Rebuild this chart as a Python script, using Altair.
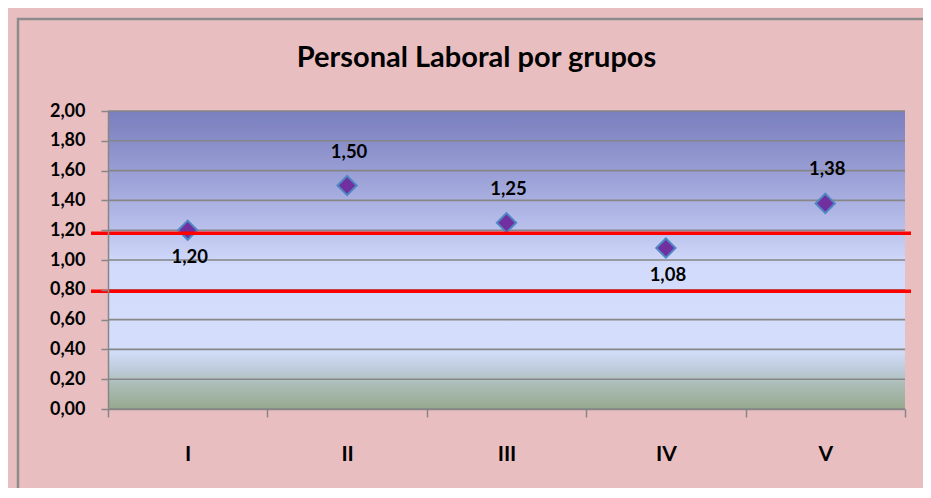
import altair as alt
import pandas as pd

# ---- data ----
categories = ["I", "II", "III", "IV", "V"]
values = [1.20, 1.50, 1.25, 1.08, 1.38]
ref_lines = [1.18, 0.79]
y_ticks = [0.0, 0.2, 0.4, 0.6, 0.8, 1.0, 1.2, 1.4, 1.6, 1.8, 2.0]
title_text = ["Personal Laboral por grupos"]

W, H = 797, 298
PINK = "#e9bec1"
GRID = "#868686"

pts = pd.DataFrame({"cat": categories, "value": values})
refs = pd.DataFrame({"ref": ref_lines})
grid = pd.DataFrame({"tick": y_ticks})
one = pd.DataFrame({"k": [0]})
ttl = pd.DataFrame({"t": title_text})

xscale = alt.Scale(type="band", domain=categories, paddingInner=0, paddingOuter=0)
yscale = alt.Scale(domain=[0, 2])

x_axis = alt.Axis(
    tickBand="extent", labelAngle=0, labelFont="Lato", labelFontWeight="bold",
    labelFontSize=21, labelColor="black", labelPadding=26, tickSize=8,
    tickColor=GRID, tickWidth=1.5, domainColor=GRID, domainWidth=1.5,
    grid=False, zindex=1, title=None,
)
y_axis = alt.Axis(
    values=y_ticks, labelExpr="replace(format(datum.value, '.2f'), '.', ',')",
    labelOverlap=False, labelFont="Lato", labelFontWeight="bold",
    labelFontSize=18, labelColor="black",
    labelPadding=16, tickSize=7, tickColor=GRID, tickWidth=1.5,
    domainColor=GRID, domainWidth=1.5, grid=False, zindex=1, title=None,
)

def xe():
    return alt.X("cat:N", sort=categories, scale=xscale, axis=x_axis)

def ye(field):
    return alt.Y(field, scale=yscale, axis=y_axis)

gradient = alt.Gradient(
    gradient="linear", x1=0, x2=0, y1=0, y2=1,
    stops=[
        alt.GradientStop(offset=0.0, color="#7a7fbe"),
        alt.GradientStop(offset=0.2, color="#989dd4"),
        alt.GradientStop(offset=0.4, color="#bac1ec"),
        alt.GradientStop(offset=0.52, color="#d2dbfb"),
        alt.GradientStop(offset=0.8, color="#d4defc"),
        alt.GradientStop(offset=0.87, color="#bccbd9"),
        alt.GradientStop(offset=0.91, color="#aebfbc"),
        alt.GradientStop(offset=1.0, color="#96a98d"),
    ],
)

bg = alt.Chart(one).mark_rect(color=gradient).encode(
    x=alt.value(0), x2=alt.value(W), y=alt.value(0), y2=alt.value(H)
)

border = alt.Chart(one).mark_rect(
    fillOpacity=0, stroke="#8c8c8c", strokeWidth=2.5
).encode(x=alt.value(-90), x2=alt.value(W + 60), y=alt.value(-92), y2=alt.value(H + 90))

title = alt.Chart(ttl).mark_text(
    font="Lato", fontWeight="bold", fontSize=29, color="black",
    baseline="alphabetic", align="center",
).encode(text="t:N", x=alt.value(W / 2 - 30), y=alt.value(-44))

gridlines = alt.Chart(grid).mark_rule(color=GRID, strokeWidth=1.6).encode(
    y=ye("tick:Q"), x=alt.value(0), x2=alt.value(W)
)

points = alt.Chart(pts).mark_point(
    shape="diamond", filled=True, size=370, fill="#7030a0", stroke="#4f87c4",
    strokeWidth=2, opacity=1,
).encode(x=xe(), y=ye("value:Q"))

redlines = alt.Chart(refs).mark_rule(color="#ff0000", strokeWidth=3.5).encode(
    y=ye("ref:Q"), x=alt.value(-17), x2=alt.value(W + 6)
)

label_base = alt.Chart(pts).transform_calculate(
    label="replace(format(datum.value, '.2f'), '.', ',')"
)
labels_above = label_base.transform_filter("datum.value > 1.2").mark_text(
    font="Lato", fontWeight="bold", fontSize=18.5, color="black", dy=-34, dx=2
).encode(x=xe(), y=ye("value:Q"), text="label:N")
labels_below = label_base.transform_filter("datum.value <= 1.2").mark_text(
    font="Lato", fontWeight="bold", fontSize=18.5, color="black", dy=27, dx=2
).encode(x=xe(), y=ye("value:Q"), text="label:N")

chart = alt.layer(
    bg, border, title, gridlines, points, redlines, labels_above, labels_below
).properties(
    width=W, height=H,
    autosize=alt.AutoSizeParams(type="none"),
    padding={"left": 100, "top": 103, "right": 18, "bottom": 79},
    background=PINK,
).configure_view(stroke=None)

chart.save("out.html", embed_options={"renderer": "svg", "actions": False})
